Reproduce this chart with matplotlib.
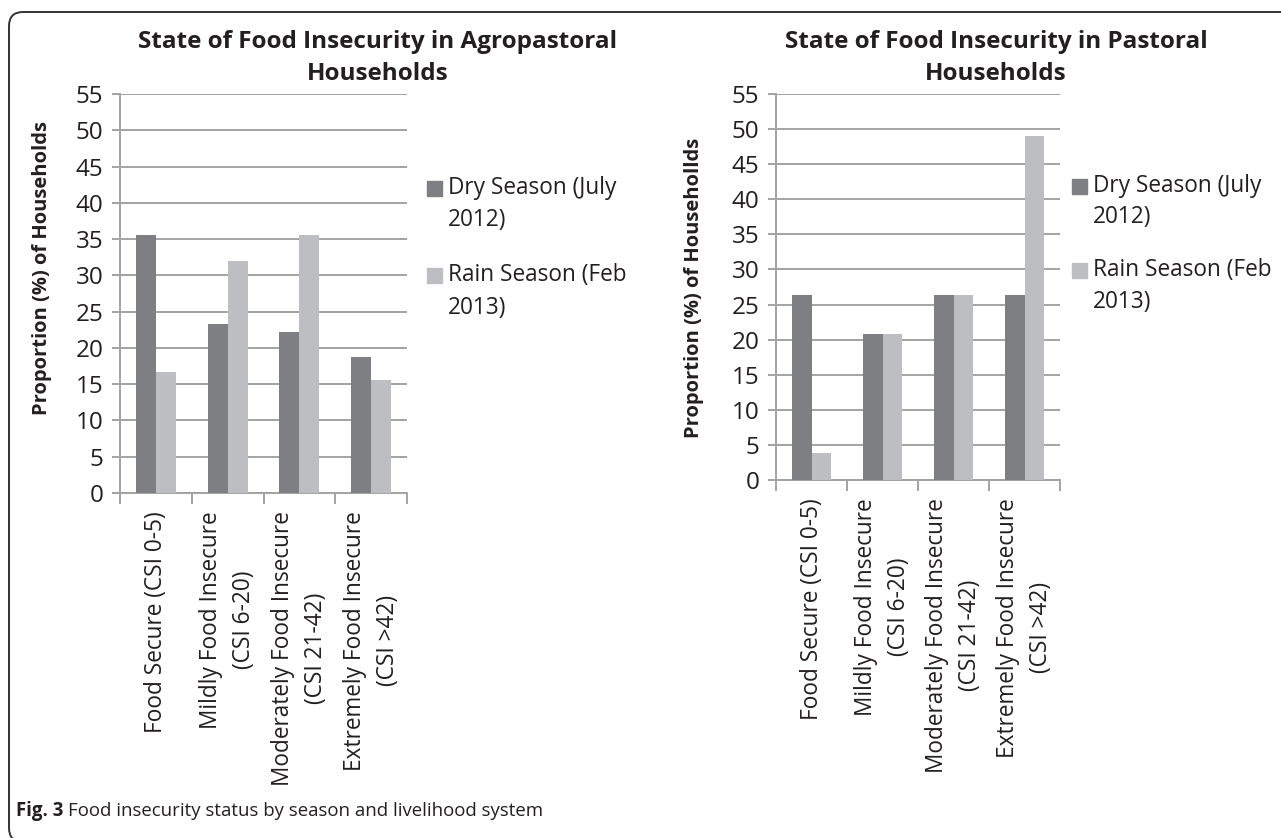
import matplotlib.pyplot as plt
import numpy as np
from matplotlib.patches import FancyBboxPatch, Rectangle

plt.rcParams['font.family'] = ['Open Sans', 'DejaVu Sans']

categories = ["Food Secure (CSI 0-5)",
              "Mildly Food Insecure\n(CSI 6-20)",
              "Moderately Food Insecure\n(CSI 21-42)",
              "Extremely Food Insecure\n(CSI >42)"]
series_names = [["Dry Season (July", "2012)"], ["Rain Season (Feb", "2013)"]]

agro_dry = [35.5, 23.3, 22.2, 18.7]
agro_rain = [16.7, 32.0, 35.5, 15.6]
past_dry = [26.4, 20.8, 26.4, 26.4]
past_rain = [3.8, 20.8, 26.4, 49.0]

yticks = list(range(0, 60, 5))

DARK = "#7e7f83"
LIGHT = "#bdbec2"
GRID = "#a3a3a3"
TXT = "#231f20"

W, H = 1281, 838


def fx(px):
    return px / W


def fy(py):
    return 1 - py / H


def draw_panel(fig, rect, dry, rain):
    ax = fig.add_axes(rect)
    x = np.arange(len(categories))
    w = 0.28
    ax.bar(x - w / 2, dry, width=w, color=DARK, zorder=3)
    ax.bar(x + w / 2, rain, width=w, color=LIGHT, zorder=3)
    ax.set_xlim(-0.5, len(categories) - 0.5)
    ax.set_ylim(0, 55)
    ax.set_yticks(yticks)
    ax.set_yticklabels([str(t) for t in yticks], fontsize=17.5, color=TXT)
    ax.yaxis.grid(True, color=GRID, linewidth=1.4, zorder=0)
    ax.tick_params(axis='y', length=6, width=1.4, color=GRID, pad=6)
    ax.set_xticks(np.arange(-0.5, len(categories), 1.0))
    ax.set_xticklabels([])
    ax.set_xticks(x, minor=True)
    ax.set_xticklabels(categories, minor=True, rotation=90, va='top', ha='center',
                       multialignment='center', fontsize=16.3, color=TXT,
                       linespacing=1.5)
    ax.tick_params(axis='x', which='major', length=8, width=1.4, color=GRID)
    ax.tick_params(axis='x', which='minor', length=0, pad=13)
    for s in ['top', 'right']:
        ax.spines[s].set_visible(False)
    for s in ['left', 'bottom']:
        ax.spines[s].set_color(GRID)
        ax.spines[s].set_linewidth(1.4)
    return ax


fig = plt.figure(figsize=(12.81, 8.38), dpi=100)

# rounded frame around the figure (right side runs off the image)
frame = FancyBboxPatch((fx(9), fy(842)), 1.05, fy(12) - fy(842),
                       boxstyle="round,pad=0,rounding_size=0.011",
                       transform=fig.transFigure, fill=False,
                       edgecolor="#333333", linewidth=1.4, clip_on=False,
                       mutation_aspect=W / H)
fig.patches.append(frame)

ax1 = draw_panel(fig, [fx(120), fy(493), fx(407) - fx(120), fy(94) - fy(493)],
                 agro_dry, agro_rain)
ax2 = draw_panel(fig, [fx(776), fy(480), fx(1060) - fx(776), fy(94) - fy(480)],
                 past_dry, past_rain)

fig.text(fx(42), fy(268), "Proportion (%) of Households", rotation=90,
         ha='center', va='center', fontsize=14.5, fontweight='bold', color=TXT)
fig.text(fx(694), fy(288), "Proportion (%) of Househollds", rotation=90,
         ha='center', va='center', fontsize=14.5, fontweight='bold', color=TXT)

fig.text(fx(378), fy(58), "State of Food Insecurity in Agropastoral\nHouseholds",
         ha='center', va='center', fontsize=17.5, fontweight='bold', color=TXT,
         linespacing=1.5)
fig.text(fx(996), fy(58), "State of Food Insecurity in Pastoral\nHouseholds",
         ha='center', va='center', fontsize=17.5, fontweight='bold', color=TXT,
         linespacing=1.5)

# legends: square marker plus two text lines per series
legend_pos = [(427, [[188, 220], [275, 308]]), (1072, [[186, 217], [270, 302]])]
for lx, rows in legend_pos:
    for name, col, ys in zip(series_names, [DARK, LIGHT], rows):
        fig.patches.append(Rectangle((fx(lx), fy(ys[0] + 8)), fx(15), 15 / H,
                                     transform=fig.transFigure, color=col))
        for line, yy in zip(name, ys):
            fig.text(fx(lx + 21), fy(yy), line, ha='left', va='center',
                     fontsize=16.3, color=TXT)

fig.text(fx(16), fy(811), "Fig. 3", fontsize=13.4, fontweight='bold',
         va='center', color=TXT)
fig.text(fx(68), fy(811), "Food insecurity status by season and livelihood system",
         fontsize=13.4, va='center', color=TXT)

fig.savefig("out.png", dpi=100)
